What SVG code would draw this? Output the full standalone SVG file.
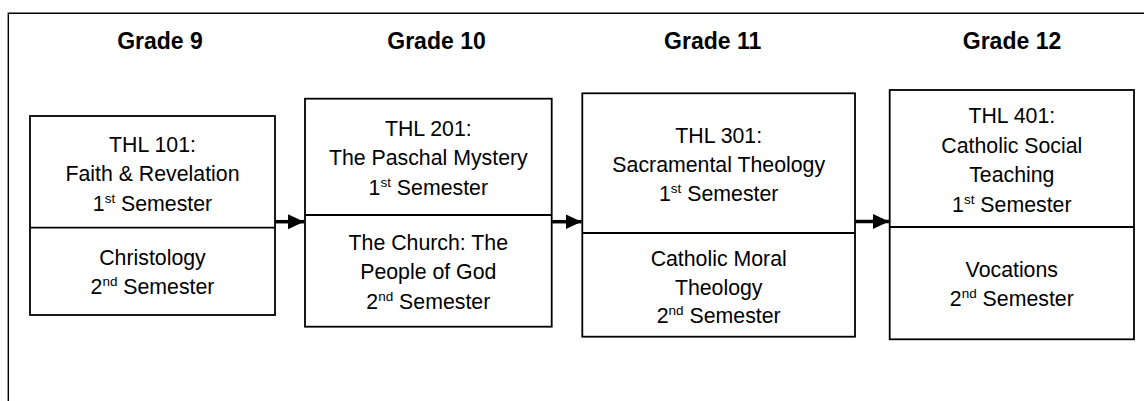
<svg xmlns="http://www.w3.org/2000/svg" width="1144" height="401" viewBox="0 0 1144 401">
  <defs>
    <style>
      .frame { fill: none; stroke: #000; stroke-width: 1.4; }
      .box { fill: #fff; stroke: #000; stroke-width: 1.8; }
      .div { stroke: #000; stroke-width: 1.8; }
      .hdr { font-family: "Liberation Sans", Arial, sans-serif; font-weight: bold; font-size: 23px; text-anchor: middle; fill: #000; }
      .t { font-family: "Liberation Sans", Arial, sans-serif; font-size: 21.3px; text-anchor: middle; fill: #000; }
      .sup { font-size: 13.5px; }
      .conn { stroke: #000; stroke-width: 3.5; fill: none; }
    </style>
    <marker id="ah" markerUnits="userSpaceOnUse" markerWidth="17" markerHeight="16" refX="16" refY="7.5" orient="auto" viewBox="0 0 17 16">
      <path d="M0,0 L16,7.5 L0,15 z" fill="#000"/>
    </marker>
  </defs>
  <rect width="1144" height="401" fill="#fff"/>
  <path class="frame" d="M8.3,401 L8.3,13.3 L1144,13.3"/>

  <g id="headers">
    <text class="hdr" x="160" y="49">Grade 9</text>
    <text class="hdr" x="436.5" y="49">Grade 10</text>
    <text class="hdr" x="712.7" y="49">Grade 11</text>
    <text class="hdr" x="1012" y="49">Grade 12</text>
  </g>

  <g id="grade9">
    <rect class="box" x="30" y="116" width="245" height="199"/>
    <line class="div" x1="30" y1="227.7" x2="275" y2="227.7"/>
    <text class="t" x="152.5" y="151.7">THL 101:</text>
    <text class="t" x="152.5" y="181">Faith &amp; Revelation</text>
    <text class="t" x="152.5" y="210.5">1<tspan class="sup" dy="-8">st</tspan><tspan dy="8"> Semester</tspan></text>
    <text class="t" x="152.5" y="265">Christology</text>
    <text class="t" x="152.5" y="293.5">2<tspan class="sup" dy="-8">nd</tspan><tspan dy="8"> Semester</tspan></text>
  </g>

  <g id="grade10">
    <rect class="box" x="305" y="98.7" width="246.7" height="228"/>
    <line class="div" x1="305" y1="215" x2="551.7" y2="215"/>
    <text class="t" x="428.3" y="135.5">THL 201:</text>
    <text class="t" x="428.3" y="165.3">The Paschal Mystery</text>
    <text class="t" x="428.3" y="195">1<tspan class="sup" dy="-8">st</tspan><tspan dy="8"> Semester</tspan></text>
    <text class="t" x="428.3" y="250">The Church: The</text>
    <text class="t" x="428.3" y="279.3">People of God</text>
    <text class="t" x="428.3" y="308.6">2<tspan class="sup" dy="-8">nd</tspan><tspan dy="8"> Semester</tspan></text>
  </g>

  <g id="grade11">
    <rect class="box" x="582.3" y="93.3" width="272.7" height="243.4"/>
    <line class="div" x1="582.3" y1="233" x2="855" y2="233"/>
    <text class="t" x="718.7" y="142.5">THL 301:</text>
    <text class="t" x="718.7" y="172">Sacramental Theology</text>
    <text class="t" x="718.7" y="201">1<tspan class="sup" dy="-8">st</tspan><tspan dy="8"> Semester</tspan></text>
    <text class="t" x="718.7" y="266">Catholic Moral</text>
    <text class="t" x="718.7" y="294.5">Theology</text>
    <text class="t" x="718.7" y="323">2<tspan class="sup" dy="-8">nd</tspan><tspan dy="8"> Semester</tspan></text>
  </g>

  <g id="grade12">
    <rect class="box" x="889.7" y="90" width="244.3" height="249.3"/>
    <line class="div" x1="889.7" y1="227" x2="1134" y2="227"/>
    <text class="t" x="1011.8" y="123.3">THL 401:</text>
    <text class="t" x="1011.8" y="152.7">Catholic Social</text>
    <text class="t" x="1011.8" y="181.7">Teaching</text>
    <text class="t" x="1011.8" y="211.5">1<tspan class="sup" dy="-8">st</tspan><tspan dy="8"> Semester</tspan></text>
    <text class="t" x="1011.8" y="276.7">Vocations</text>
    <text class="t" x="1011.8" y="306">2<tspan class="sup" dy="-8">nd</tspan><tspan dy="8"> Semester</tspan></text>
  </g>

  <g id="connectors">
    <line class="conn" x1="275.5" y1="221.7" x2="304" y2="221.7" marker-end="url(#ah)"/>
    <line class="conn" x1="552.2" y1="221.7" x2="581.5" y2="221.7" marker-end="url(#ah)"/>
    <line class="conn" x1="855.5" y1="221.5" x2="889" y2="221.5" marker-end="url(#ah)"/>
  </g>
</svg>
